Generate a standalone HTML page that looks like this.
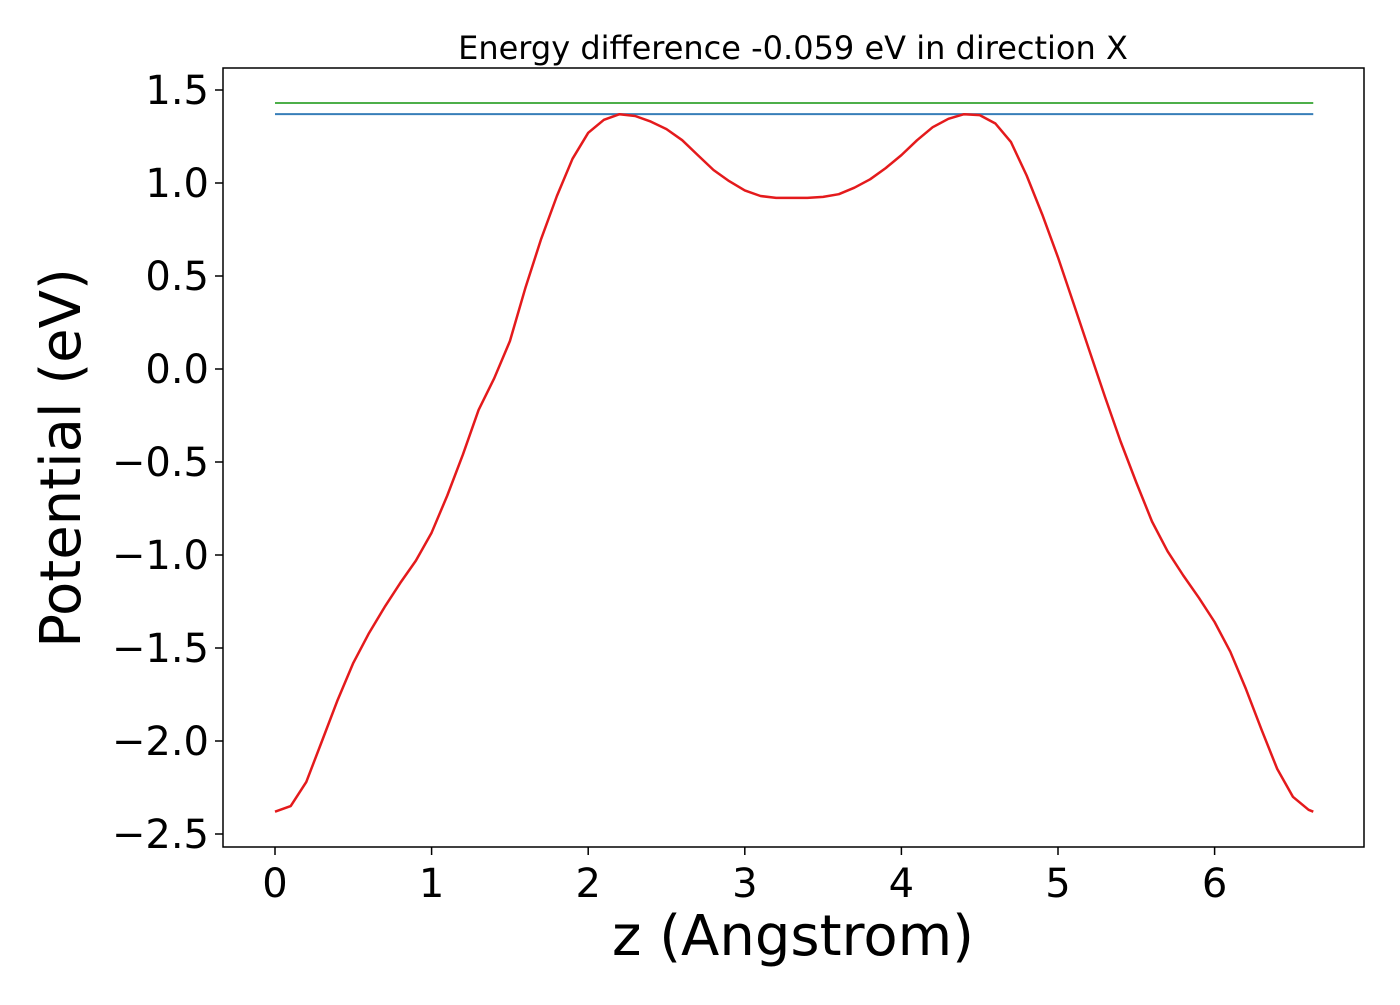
<!DOCTYPE html>
<html><head><meta charset="utf-8"><style>
body{margin:0;background:#fff;}
svg text{font-family:"DejaVu Sans","Liberation Sans",sans-serif;fill:#000;}
</style></head><body>
<svg id="chart" width="1400" height="1000" xmlns="http://www.w3.org/2000/svg"></svg>
<script>
const zValues=[0,0.1,0.2,0.3,0.4,0.5,0.6,0.7,0.8,0.9,1.0,1.1,1.2,1.3,1.4,1.5,1.6,1.7,1.8,1.9,2.0,2.1,2.2,2.3,2.4,2.5,2.6,2.7,2.8,2.9,3.0,3.1,3.2,3.3,3.4,3.5,3.6,3.7,3.8,3.9,4.0,4.1,4.2,4.3,4.4,4.5,4.6,4.7,4.8,4.9,5.0,5.1,5.2,5.3,5.4,5.5,5.6,5.7,5.8,5.9,6.0,6.1,6.2,6.3,6.4,6.5,6.6,6.63];
const potential=[-2.38,-2.35,-2.22,-2.0,-1.78,-1.58,-1.42,-1.28,-1.15,-1.03,-0.88,-0.68,-0.46,-0.22,-0.05,0.15,0.44,0.70,0.93,1.13,1.27,1.34,1.37,1.36,1.33,1.29,1.23,1.15,1.07,1.01,0.96,0.93,0.92,0.92,0.92,0.925,0.94,0.975,1.02,1.08,1.15,1.23,1.30,1.345,1.37,1.365,1.32,1.22,1.04,0.83,0.6,0.35,0.10,-0.15,-0.39,-0.61,-0.82,-0.98,-1.11,-1.23,-1.36,-1.52,-1.72,-1.94,-2.15,-2.3,-2.37,-2.38];
const levelGreen=[1.43];
const levelBlue=[1.37];
const xTicks=[0,1,2,3,4,5,6];
const yTicks=[1.5,1.0,0.5,0.0,-0.5,-1.0,-1.5,-2.0,-2.5];
const zRange=[0,6.63];

const NS="http://www.w3.org/2000/svg";
const svg=document.getElementById('chart');
const L=223,R=1364,T=68,B=847;
const xs=z=>275+z*156.6;
const ys=v=>369-v*186;
function mk(tag,attrs,parent){const e=document.createElementNS(NS,tag);for(const k in attrs)e.setAttribute(k,attrs[k]);(parent||svg).appendChild(e);return e;}

const frame=mk('rect',{x:L,y:T,width:R-L,height:B-T,fill:'none',stroke:'#000','stroke-width':1.5});



xTicks.forEach(t=>{
  const ln=mk('line',{x1:xs(t),x2:xs(t),y1:B,y2:B+8,stroke:'#000','stroke-width':1.5});
  
  
  const tx=mk('text',{x:xs(t),y:B+50,'text-anchor':'middle','font-size':40});
  tx.textContent=String(t);
  
  
});
yTicks.forEach(t=>{
  const ln=mk('line',{x1:L-8,x2:L,y1:ys(t),y2:ys(t),stroke:'#000','stroke-width':1.5});
  
  
  const tx=mk('text',{x:L-14,y:ys(t)+14,'text-anchor':'end','font-size':40});
  tx.textContent=(t<0?'\u2212':'')+Math.abs(t).toFixed(1);
  
  
});

const g=mk('line',{x1:xs(zRange[0]),x2:xs(zRange[1]),y1:ys(levelGreen[0]),y2:ys(levelGreen[0]),stroke:'#4daf4a','stroke-width':2});


const b=mk('line',{x1:xs(zRange[0]),x2:xs(zRange[1]),y1:ys(levelBlue[0]),y2:ys(levelBlue[0]),stroke:'#377eb8','stroke-width':2});



const pts=zValues.map((z,i)=>xs(z).toFixed(1)+','+ys(potential[i]).toFixed(1)).join(' ');
const pl=mk('polyline',{points:pts,fill:'none',stroke:'#e41a1c','stroke-width':2.5,'stroke-linejoin':'round'});



const title=mk('text',{x:793,y:59,'text-anchor':'middle','font-size':32});
title.textContent='Energy difference -0.059 eV in direction X';


const xl=mk('text',{x:793,y:955,'text-anchor':'middle','font-size':56});
xl.textContent='z (Angstrom)';


const yl=mk('text',{x:0,y:0,'text-anchor':'middle','font-size':56,transform:'translate(80,458) rotate(-90)'});
yl.textContent='Potential (eV)';


</script>
</body></html>
